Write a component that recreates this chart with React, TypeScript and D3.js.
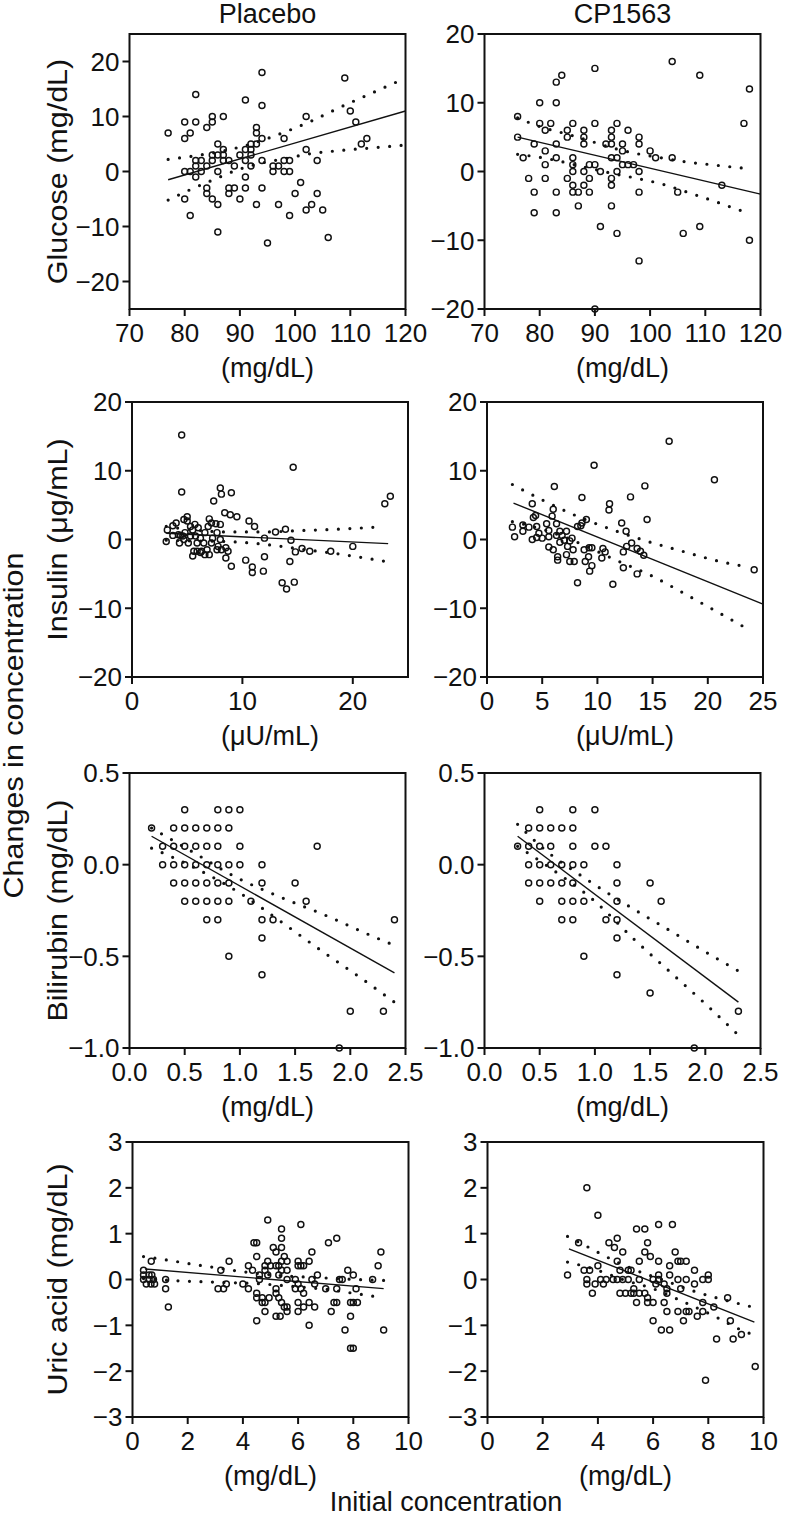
import * as d3 from 'd3'

const FONT = '"Liberation Sans", Arial, Helvetica, sans-serif'
const W = 789
const H = 1519

type Pt = [number, number]

// ---- Glucose, placebo
const glucosePlaceboPts: Pt[] = [
  [77, 7], [80, 9], [80, 6], [81, 7], [82, 14], [82, 9], [80, 0], [81, 0], [80, -5], [81, -8],
  [82, 2], [82, 1], [82, -1], [83, 2], [83, 0], [84, 8], [85, 9], [85, 10], [87, 10], [84, 1],
  [85, 3], [85, 2], [86, 5], [86, 3], [87, 4], [87, 3], [87, 2], [84, -3], [84, -4], [85, -5],
  [86, 0], [86, -6], [86, -11], [88, 2], [88, -3], [88, -4], [89, 1], [89, -3], [90, 3], [90, -5],
  [91, 13], [91, 4], [91, 2], [91, -1], [91, -3], [92, 5], [92, 4], [92, 3], [92, 1], [93, 8],
  [93, 7], [93, 5], [93, -6], [94, 18], [94, 12], [94, 6], [94, 2], [94, -3], [95, -13], [96, 1],
  [96, 0], [97, 1], [97, -6], [98, 6], [98, 2], [98, 0], [99, 2], [99, 0], [99, -8], [100, -4],
  [101, -2], [102, 4], [102, -7], [102, 10], [103, -6], [104, -4], [105, -7], [106, -12], [104, 2],
  [109, 17], [110, 11], [111, 9], [112, 5], [113, 6],
]
const glucosePlaceboFit: Pt[] = [[77, -1.5], [120, 11]]
const glucosePlaceboUpper: Pt[] = [[77, 2.2], [81.5, 2.8], [85.8, 3.5], [90.2, 4.5], [94.4, 5.8], [98.7, 7.4], [103, 9.2], [108, 11.6], [114, 14.3], [120, 17]]
const glucosePlaceboLower: Pt[] = [[77, -5.2], [81, -3.3], [85.2, -1.5], [89.3, 0.2], [93.8, 1.5], [98, 2.3], [102.5, 3.2], [108, 3.8], [114, 4.3], [120, 4.8]]

// ---- Glucose, CP1563
const glucoseDrugPts: Pt[] = [
  [76, 8], [76, 5], [77, 2], [78, -1], [79, 4], [79, -3], [79, -6], [80, 10], [80, 7], [81, 6],
  [81, 3], [81, 1], [81, -1], [82, 7], [83, 13], [84, 14], [83, 10], [83, 4], [83, 2], [83, -3],
  [83, -6], [85, 6], [85, 5], [85, -1], [86, 7], [86, 2], [86, 1], [86, 0], [86, -2], [86, -3],
  [87, -3], [87, -5], [88, 6], [88, 5], [88, 4], [88, 0], [88, -2], [89, 1], [89, -1], [89, -3],
  [90, 15], [90, 7], [90, 1], [90, -20], [91, 0], [91, -8], [92, 4], [93, 6], [93, 5], [93, 4],
  [93, 2], [93, -1], [93, -2], [93, -5], [94, 7], [94, 2], [94, 0], [94, -9], [95, 4], [95, 3],
  [95, 1], [96, 6], [96, 1], [97, 1], [98, 5], [98, 4], [98, 0], [98, -3], [98, -13], [100, 3],
  [101, 2], [104, 16], [104, 2], [105, -3], [106, -9], [109, 14], [109, -8], [113, -2], [117, 7],
  [118, 12], [118, -10],
]
const glucoseDrugFit: Pt[] = [[76, 5], [120, -3.3]]
const glucoseDrugUpper: Pt[] = [[76, 7.8], [80.5, 6.4], [84.7, 5.5], [88.9, 4.5], [93.3, 3.4], [97.6, 2.6], [102, 2.0], [106.5, 1.4], [110.9, 1.0], [115.5, 0.6], [118, 0.4]]
const glucoseDrugLower: Pt[] = [[76, 2.5], [80.5, 2.0], [84.7, 1.3], [88.9, 0.5], [93.3, -0.3], [97.6, -1.0], [102.5, -1.9], [106.7, -3.0], [111.2, -4.2], [115.4, -5.4], [118, -6.1]]

// ---- Insulin, placebo
const insulinPlaceboPts: Pt[] = [
  [4.5, 15.2], [4.5, 6.9], [3.1, -0.3], [3.2, 1.4], [3.7, 2.0], [4.0, 2.4], [3.7, 0.6], [4.3, -0.5],
  [4.4, 0.6], [4.7, 2.9], [5.0, 3.3], [5.0, 2.7], [4.6, 0.5], [4.8, 1.0], [5.1, -0.5], [5.3, 1.9],
  [5.5, 1.4], [5.7, 2.2], [5.75, 0.5], [5.6, -1.7], [5.5, -2.4], [5.9, -0.5], [6.0, 1.7], [6.2, 0.2],
  [6.3, -1.7], [6.5, -0.5], [6.6, 1.0], [6.8, -1.5], [7.0, -2.2], [7.0, 3.0], [7.2, 2.4], [7.3, 0.2],
  [7.6, 2.3], [7.7, 1.0], [7.8, -1.0], [8.0, 2.2], [7.4, 5.6], [8.0, 7.5], [8.1, 6.6], [9.0, 6.8],
  [8.0, 0], [8.1, -1.5], [8.4, 3.9], [8.9, 3.6], [9.5, 3.3], [8.5, -1.2], [8.7, -1.7], [8.5, -2.7],
  [9.0, -3.9], [10.6, 2.7], [11.1, 1.9], [10.3, -3.0], [10.9, -4.0], [10.9, -4.8], [11.9, -4.6],
  [12.0, -2.5], [12.0, 0.2], [13.0, 1.1], [13.9, 1.5], [14.4, -0.1], [14.3, -3.2], [13.6, -6.3],
  [14.0, -7.2], [14.7, -6.2], [14.6, 10.5], [14.8, -1.8], [15.4, -1.3], [16.1, -1.7], [18.0, -1.7],
  [20.0, -1.0], [22.9, 5.2], [23.4, 6.3], [4.2, 0.7], [4.7, 0], [5.3, 0.5], [5.9, -1.7], [6.2, -1.9],
  [6.6, -2.2], [6.9, 1.9], [7.7, -1.5], [7.2, -0.5],
]
const insulinPlaceboFit: Pt[] = [[3.1, 0.9], [23.2, -0.6]]
const insulinPlaceboUpper: Pt[] = [[3.1, 1.9], [5.5, 1.4], [8.6, 1.1], [12, 1.1], [15.3, 1.3], [18.7, 1.5], [22.1, 1.8]]
const insulinPlaceboLower: Pt[] = [[3.1, -0.1], [5.5, -0.2], [8.6, -0.3], [12, -0.7], [15.3, -1.4], [18.7, -2.1], [23, -3.2]]

// ---- Insulin, CP1563
const insulinDrugPts: Pt[] = [
  [2.3, 1.8], [2.5, 0.4], [3.25, 2.1], [3.25, 1.2], [3.8, 1.8], [4.1, 5.2], [4.2, 3.2], [4.4, 3.5],
  [4.1, 0], [4.5, 1.9], [4.5, 0.3], [4.7, 0.9], [5.0, 0.2], [5.4, 2.3], [5.6, 1.3], [5.6, 0.4],
  [5.6, -1.1], [5.9, 3.4], [6.0, 4.4], [6.1, 7.7], [6.0, -1.5], [6.3, 2.3], [6.3, 0.6], [6.4, -2.5],
  [6.4, -3.0], [6.6, 1.2], [6.6, -0.4], [6.8, 0.6], [7.0, -0.1], [7.2, 1.2], [7.2, -2.2], [7.3, -1.0],
  [7.5, -0.2], [7.5, -3.2], [7.7, 0.2], [7.8, -1.5], [7.9, -3.2], [8.2, -6.3], [8.2, 1.9], [8.5, 2.0],
  [8.6, 6.1], [8.6, 2.4], [8.8, -1.5], [8.9, -3.2], [9.0, 2.9], [9.2, -2.5], [9.25, -1.2], [9.3, -4.6],
  [9.5, -1.2], [9.5, -3.8], [9.7, 10.8], [10.4, -2.7], [10.5, -1.3], [10.7, -1.8], [11.1, 5.2],
  [11.05, 4.3], [11.4, -6.5], [12.2, 2.4], [12.35, -1.8], [12.35, -4.1], [12.6, 1.2], [12.65, -1.0],
  [13.0, 6.2], [13.1, -0.5], [13.6, -1.3], [13.6, -5.0], [13.9, -1.7], [14.2, -2.3], [14.3, 7.8],
  [14.5, 2.9], [16.5, 14.3], [20.6, 8.7], [24.2, -4.4],
]
const insulinDrugFit: Pt[] = [[2.4, 5.3], [25, -9.4]]
const insulinDrugUpper: Pt[] = [[2.3, 8.0], [5.2, 5.6], [8.3, 3.3], [11.4, 1.4], [14.6, -0.3], [17.9, -1.8], [21.1, -3.2], [23.3, -3.9]]
const insulinDrugLower: Pt[] = [[2.3, 2.6], [5, 1.5], [8.6, -0.7], [11.4, -2.8], [14.8, -5.2], [18.7, -8.6], [23.6, -13.0]]

// ---- Bilirubin, placebo
const bilirubinPlaceboPts: Pt[] = [
  [0.5, 0.3], [0.8, 0.3], [0.9, 0.3], [1.0, 0.3],
  [0.2, 0.2], [0.4, 0.2], [0.5, 0.2], [0.6, 0.2], [0.7, 0.2], [0.8, 0.2], [0.9, 0.2],
  [0.3, 0.1], [0.4, 0.1], [0.5, 0.1], [0.6, 0.1], [0.7, 0.1], [0.8, 0.1], [1.0, 0.1], [1.7, 0.1],
  [0.3, 0], [0.4, 0], [0.5, 0], [0.6, 0], [0.7, 0], [0.8, 0], [0.9, 0], [1.0, 0], [1.2, 0],
  [0.4, -0.1], [0.5, -0.1], [0.6, -0.1], [0.7, -0.1], [0.8, -0.1], [0.9, -0.1], [1.2, -0.1], [1.5, -0.1],
  [0.5, -0.2], [0.6, -0.2], [0.7, -0.2], [0.8, -0.2], [0.9, -0.2], [1.1, -0.2], [1.6, -0.2],
  [0.7, -0.3], [0.8, -0.3], [1.2, -0.3], [1.3, -0.3], [2.4, -0.3],
  [1.2, -0.4], [0.9, -0.5], [1.2, -0.6], [2.0, -0.8], [2.3, -0.8], [1.9, -1.0],
]
const bilirubinPlaceboFit: Pt[] = [[0.2, 0.155], [2.4, -0.59]]
const bilirubinPlaceboUpper: Pt[] = [[0.2, 0.2], [0.57, 0.07], [0.97, -0.07], [1.38, -0.18], [1.79, -0.28], [2.2, -0.39], [2.4, -0.44]]
const bilirubinPlaceboLower: Pt[] = [[0.2, 0.09], [0.6, -0.02], [1.0, -0.155], [1.37, -0.31], [1.74, -0.47], [2.1, -0.62], [2.4, -0.75]]

// ---- Bilirubin, CP1563
const bilirubinDrugPts: Pt[] = [
  [0.5, 0.3], [0.8, 0.3], [1.0, 0.3],
  [0.4, 0.2], [0.5, 0.2], [0.6, 0.2], [0.7, 0.2], [0.8, 0.2],
  [0.3, 0.1], [0.4, 0.1], [0.5, 0.1], [0.6, 0.1], [0.8, 0.1], [1.0, 0.1], [1.1, 0.1],
  [0.4, 0], [0.5, 0], [0.6, 0], [0.7, 0], [0.8, 0], [0.9, 0], [1.2, 0],
  [0.4, -0.1], [0.5, -0.1], [0.6, -0.1], [0.7, -0.1], [0.8, -0.1], [1.2, -0.1], [1.5, -0.1],
  [0.5, -0.2], [0.7, -0.2], [0.8, -0.2], [0.9, -0.2], [1.2, -0.2], [1.6, -0.2],
  [0.7, -0.3], [0.8, -0.3], [1.1, -0.3], [1.2, -0.3],
  [1.2, -0.4], [0.9, -0.5], [1.2, -0.6], [1.5, -0.7], [2.3, -0.8], [1.9, -1.0],
]
const bilirubinDrugFit: Pt[] = [[0.3, 0.155], [2.3, -0.75]]
const bilirubinDrugUpper: Pt[] = [[0.3, 0.22], [0.55, 0.08], [0.9, -0.07], [1.29, -0.22], [1.68, -0.36], [2.07, -0.5], [2.3, -0.58]]
const bilirubinDrugLower: Pt[] = [[0.3, 0.1], [0.6, -0.02], [1.0, -0.2], [1.36, -0.41], [1.69, -0.59], [2.02, -0.77], [2.3, -0.93]]

// ---- Uric acid, placebo
const uricPlaceboPts: Pt[] = [
  [0.4, 0.2], [0.4, 0.1], [0.4, 0], [0.5, -0.1], [0.6, 0.1], [0.6, 0], [0.67, -0.1], [0.68, 0.4],
  [0.76, 0], [0.8, -0.1], [0.7, 0.1], [1.2, 0], [1.2, -0.2], [1.3, -0.6], [3.1, -0.2], [3.2, 0.2],
  [3.3, -0.2], [3.4, -0.1], [3.5, 0.4], [4.0, -0.1], [4.2, 0.3], [4.2, -0.2], [4.4, 0.8], [4.5, 0.8],
  [4.5, 0.5], [4.35, 0.2], [4.5, -0.3], [4.5, -0.4], [4.5, -0.9], [4.6, 0.1], [4.6, 0], [4.7, -0.4],
  [4.7, -0.5], [4.8, -0.7], [4.8, -0.5], [4.8, 0.3], [4.8, 0.2], [4.9, 1.3], [4.9, 0.4], [4.9, 0.1],
  [4.95, -0.4], [5.0, 0.3], [5.1, 0.7], [5.2, 0.6], [5.2, 0.3], [5.2, -0.2], [5.2, -0.3], [5.2, -0.8],
  [5.3, 0.3], [5.3, 0.1], [5.3, -0.4], [5.35, -0.8], [5.4, 1.1], [5.4, 0.9], [5.4, 0.7], [5.4, 0.4],
  [5.4, 0.2], [5.4, -0.5], [5.5, 0.5], [5.5, -0.6], [5.6, 0.4], [5.6, 0.2], [5.6, 0], [5.6, -0.6],
  [5.6, -0.7], [5.9, 0], [5.9, -0.2], [6.0, 0.4], [6.0, 0.3], [6.0, -0.1], [6.0, -0.5], [6.0, -0.7],
  [6.1, 1.2], [6.1, 0.3], [6.1, -0.2], [6.2, 0.3], [6.2, -0.3], [6.2, -0.6], [6.4, 0.4], [6.4, -0.5],
  [6.4, -1.0], [6.5, 0.6], [6.5, 0], [6.6, -0.6], [6.6, -0.1], [6.7, 0.1], [7.0, -0.2], [7.1, 0.8],
  [7.2, -0.7], [7.4, 0.9], [7.4, -0.2], [7.3, -0.5], [7.4, -0.5], [7.5, 0], [7.6, 0], [7.7, -1.1],
  [7.8, 0.2], [7.9, -0.5], [7.9, -0.8], [7.9, -1.5], [8.0, -1.5], [8.0, 0.1], [8.0, -0.5], [8.1, -0.2],
  [8.15, -0.5], [8.7, 0], [8.9, 0.3], [9.0, 0.6], [9.1, -1.1],
]
const uricPlaceboFit: Pt[] = [[0.46, 0.23], [9.1, -0.2]]
const uricPlaceboUpper: Pt[] = [[0.4, 0.5], [1.3, 0.42], [2.2, 0.33], [3.1, 0.25], [4.0, 0.17], [5.5, 0.08], [7.1, 0.03], [8.1, 0.0], [9.1, -0.02]]
const uricPlaceboLower: Pt[] = [[0.4, 0.02], [1.7, -0.03], [3.1, -0.06], [4.5, -0.09], [6.0, -0.16], [7.1, -0.22], [8.0, -0.3], [9.1, -0.4]]

// ---- Uric acid, CP1563
const uricDrugPts: Pt[] = [
  [2.9, 0.1], [3.3, 0.8], [3.5, 0.2], [3.6, 2.0], [3.6, 0], [3.6, -0.1], [3.7, 0.2], [3.8, -0.3],
  [3.9, -0.1], [4.0, 0.3], [4.0, 1.4], [4.1, 0], [4.2, -0.1], [4.3, 0], [4.4, 0.8], [4.6, 0.7],
  [4.55, 0], [4.7, 0.9], [4.7, 0.4], [4.7, 0], [4.8, -0.3], [4.8, 0.2], [4.9, 0.6], [4.9, 0],
  [5.0, -0.3], [5.1, 0.2], [5.1, 0], [5.2, 0.2], [5.2, -0.3], [5.3, -0.2], [5.3, -0.3], [5.4, 1.1],
  [5.4, -0.5], [5.5, 0.4], [5.5, 0], [5.5, -0.3], [5.7, 1.1], [5.7, 0.6], [5.7, -0.3], [5.8, 0.8],
  [5.8, -0.4], [5.8, -0.5], [5.9, 0.5], [6.0, -0.5], [6.0, -0.9], [6.0, 0], [6.1, -0.1], [6.2, 1.2],
  [6.2, 0.4], [6.2, 0.1], [6.2, 0], [6.3, -1.1], [6.4, -0.5], [6.4, -0.1], [6.5, -0.2], [6.5, -0.7],
  [6.5, -0.3], [6.6, 0.3], [6.6, 0.1], [6.6, -1.1], [6.7, 1.2], [6.8, 0.6], [6.9, 0.4], [6.9, 0],
  [6.9, -0.7], [7.0, 0.4], [7.0, -0.2], [7.1, -0.9], [7.2, 0.4], [7.2, 0], [7.2, -0.7], [7.3, -0.7],
  [7.5, 0.2], [7.5, -0.1], [7.6, -0.8], [7.8, -0.5], [7.8, 0], [7.8, -0.7], [8.0, 0.1], [8.0, 0],
  [7.9, -2.2], [8.2, -0.6], [8.3, -1.3], [8.7, -0.4], [8.8, -0.9], [8.9, -1.3], [9.2, -1.2], [9.7, -1.9],
]
const uricDrugFit: Pt[] = [[2.95, 0.67], [9.67, -0.93]]
const uricDrugUpper: Pt[] = [[2.9, 0.94], [3.7, 0.69], [4.1, 0.56], [5.3, 0.22], [6.5, -0.04], [7.4, -0.24], [8.3, -0.4], [9.6, -0.6]]
const uricDrugLower: Pt[] = [[2.9, 0.38], [3.8, 0.24], [5.0, -0.02], [6.0, -0.2], [7.0, -0.46], [8.35, -0.84], [9.15, -1.09], [9.6, -1.2]]

const columnTitles = ['Placebo', 'CP1563']
const rowLabels = ['Glucose (mg/dL)', 'Insulin (μg/mL)', 'Bilirubin (mg/dL)', 'Uric acid (mg/dL)']
const unitLabels = ['(mg/dL)', '(μU/mL)', '(mg/dL)', '(mg/dL)']

// layout (pixels)
const ROW_TOP = [34, 402, 773, 1142]
const COL_LEFT = [[129.5, 484.5], [132, 487], [129.5, 484.5], [132.5, 487.5]]
const PW = 276
const PH = 275
const VSTRETCH = 1.13 // rotated labels in the source look drawn a little longer

type Panel = {
  row: number
  col: number
  xDomain: [number, number]
  yDomain: [number, number]
  xTicks: number[]
  yTicks: number[]
  digits: number
  pts: Pt[]
  fit: Pt[]
  upper: Pt[]
  lower: Pt[]
}

const panels: Panel[] = [
  { row: 0, col: 0, xDomain: [70, 120], yDomain: [-25, 25], xTicks: [70, 80, 90, 100, 110, 120], yTicks: [-20, -10, 0, 10, 20], digits: 0, pts: glucosePlaceboPts, fit: glucosePlaceboFit, upper: glucosePlaceboUpper, lower: glucosePlaceboLower },
  { row: 0, col: 1, xDomain: [70, 120], yDomain: [-20, 20], xTicks: [70, 80, 90, 100, 110, 120], yTicks: [-20, -10, 0, 10, 20], digits: 0, pts: glucoseDrugPts, fit: glucoseDrugFit, upper: glucoseDrugUpper, lower: glucoseDrugLower },
  { row: 1, col: 0, xDomain: [0, 25], yDomain: [-20, 20], xTicks: [0, 10, 20], yTicks: [-20, -10, 0, 10, 20], digits: 0, pts: insulinPlaceboPts, fit: insulinPlaceboFit, upper: insulinPlaceboUpper, lower: insulinPlaceboLower },
  { row: 1, col: 1, xDomain: [0, 25], yDomain: [-20, 20], xTicks: [0, 5, 10, 15, 20, 25], yTicks: [-20, -10, 0, 10, 20], digits: 0, pts: insulinDrugPts, fit: insulinDrugFit, upper: insulinDrugUpper, lower: insulinDrugLower },
  { row: 2, col: 0, xDomain: [0, 2.5], yDomain: [-1, 0.5], xTicks: [0, 0.5, 1, 1.5, 2, 2.5], yTicks: [-1, -0.5, 0, 0.5], digits: 1, pts: bilirubinPlaceboPts, fit: bilirubinPlaceboFit, upper: bilirubinPlaceboUpper, lower: bilirubinPlaceboLower },
  { row: 2, col: 1, xDomain: [0, 2.5], yDomain: [-1, 0.5], xTicks: [0, 0.5, 1, 1.5, 2, 2.5], yTicks: [-1, -0.5, 0, 0.5], digits: 1, pts: bilirubinDrugPts, fit: bilirubinDrugFit, upper: bilirubinDrugUpper, lower: bilirubinDrugLower },
  { row: 3, col: 0, xDomain: [0, 10], yDomain: [-3, 3], xTicks: [0, 2, 4, 6, 8, 10], yTicks: [-3, -2, -1, 0, 1, 2, 3], digits: 0, pts: uricPlaceboPts, fit: uricPlaceboFit, upper: uricPlaceboUpper, lower: uricPlaceboLower },
  { row: 3, col: 1, xDomain: [0, 10], yDomain: [-3, 3], xTicks: [0, 2, 4, 6, 8, 10], yTicks: [-3, -2, -1, 0, 1, 2, 3], digits: 0, pts: uricDrugPts, fit: uricDrugFit, upper: uricDrugUpper, lower: uricDrugLower },
]

const fmt = (v: number, digits: number) => {
  const s = Math.abs(v).toFixed(digits)
  return v < 0 ? '\u2212' + s : s
}

function ScatterPanel({ p }: { p: Panel }) {
  const x0 = COL_LEFT[p.row][p.col]
  const y0 = ROW_TOP[p.row]
  const x = d3.scaleLinear().domain(p.xDomain).range([0, PW])
  const y = d3.scaleLinear().domain(p.yDomain).range([PH, 0])

  const straight = d3.line<Pt>().x(d => x(d[0])).y(d => y(d[1]))
  const band = d3.line<Pt>().x(d => x(d[0])).y(d => y(d[1])).curve(d3.curveMonotoneX)

  return (
    <g transform={`translate(${x0},${y0})`}>
      {/* dotted confidence bands */}
      {[p.upper, p.lower].map((b, i) => (
        <path key={i} d={band(b) || ''} fill="none" stroke="#111" strokeWidth={3.2}
          strokeLinecap="round" strokeDasharray="0 11.5" />
      ))}
      {/* regression line */}
      <path d={straight(p.fit) || ''} fill="none" stroke="#111" strokeWidth={1.4} />
      {/* observations */}
      {p.pts.map((d, i) => (
        <circle key={i} cx={x(d[0])} cy={y(d[1])} r={3.0} fill="none" stroke="#111" strokeWidth={1.45} />
      ))}
      {/* frame */}
      <rect x={0} y={0} width={PW} height={PH} fill="none" stroke="#111" strokeWidth={2} />
      {/* x axis */}
      {p.xTicks.map(t => (
        <g key={t} transform={`translate(${x(t)},${PH})`}>
          <line y1={0} y2={7} stroke="#111" strokeWidth={2} />
          <text y={33} textAnchor="middle" fontSize={26} fill="#111">{fmt(t, p.digits)}</text>
        </g>
      ))}
      {/* y axis */}
      {p.yTicks.map(t => (
        <g key={t} transform={`translate(0,${y(t)})`}>
          <line x1={0} x2={-7} stroke="#111" strokeWidth={2} />
          <text x={-10} dy="0.36em" textAnchor="end" fontSize={26} fill="#111">{fmt(t, p.digits)}</text>
        </g>
      ))}
      <text x={PW / 2} y={PH + 68} textAnchor="middle" fontSize={27} fill="#111">{unitLabels[p.row]}</text>
    </g>
  )
}

export default function App() {
  return (
    <div style={{ position: 'absolute', left: 0, top: 0, background: '#fff' }}>
      <svg width={W} height={H} fontFamily={FONT} style={{ display: 'block' }}>
        <rect width={W} height={H} fill="#fff" />
        {columnTitles.map((t, c) => (
          <text key={t} x={COL_LEFT[0][c] + PW / 2} y={23} textAnchor="middle" fontSize={27} fill="#111">{t}</text>
        ))}
        {rowLabels.map((t, r) => (
          <text key={t} transform={`translate(67,${ROW_TOP[r] + PH / 2}) rotate(-90) scale(${VSTRETCH},1)`}
            textAnchor="middle" fontSize={27} fill="#111">{t}</text>
        ))}
        <text transform={`translate(23,${(ROW_TOP[0] + ROW_TOP[3] + PH) / 2}) rotate(-90) scale(${VSTRETCH},1)`}
          textAnchor="middle" fontSize={27} fill="#111">Changes in concentration</text>
        <text x={446} y={1511} textAnchor="middle" fontSize={27} fill="#111">Initial concentration</text>
        {panels.map((p, i) => <ScatterPanel key={i} p={p} />)}
      </svg>
    </div>
  )
}
